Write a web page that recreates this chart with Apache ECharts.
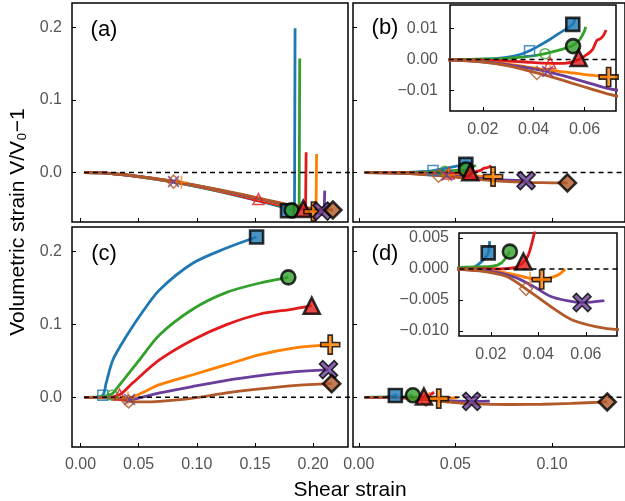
<!DOCTYPE html>
<html>
<head>
<meta charset="utf-8">
<script src="https://cdn.jsdelivr.net/npm/echarts@6.0.0/dist/echarts.min.js"></script>
<style>
html, body { margin: 0; padding: 0; background: #fff; }
#chart { width: 625px; height: 501px; }
</style>
</head>
<body>
<div id="chart"></div>
<script>
// 颜色: 蓝 绿 红 橙 紫 棕
const COLORS = ['#1f78b4', '#33a02c', '#e31a1c', '#ff7f00', '#6a3d9a', '#b15928'];

// ---- panel (a) ----
const aBlue   = [[0.003,0],[0.02,-0.0005],[0.04,-0.0036],[0.06,-0.0079],[0.08,-0.0131],[0.10,-0.0192],[0.12,-0.0262],[0.14,-0.0338],[0.16,-0.0418],[0.172,-0.0468],[0.18,-0.0505],[0.184,-0.0525],[0.1845,0.1985]];
const aGreen  = [[0.003,0],[0.02,-0.0005],[0.04,-0.0035],[0.06,-0.0078],[0.08,-0.0129],[0.10,-0.0189],[0.12,-0.0257],[0.14,-0.0331],[0.16,-0.0408],[0.175,-0.0468],[0.183,-0.0505],[0.188,-0.0525],[0.1885,0.157]];
const aRed    = [[0.003,0],[0.02,-0.0005],[0.04,-0.0034],[0.06,-0.0076],[0.08,-0.0126],[0.10,-0.0185],[0.12,-0.0255],[0.14,-0.0332],[0.153,-0.0385],[0.17,-0.0442],[0.185,-0.0487],[0.1935,-0.051],[0.194,0.028]];
const aOrange = [[0.003,0],[0.02,-0.0005],[0.04,-0.0034],[0.06,-0.0075],[0.08,-0.0124],[0.10,-0.0182],[0.12,-0.0247],[0.14,-0.0317],[0.16,-0.039],[0.18,-0.0463],[0.195,-0.0515],[0.2025,-0.0535],[0.203,0.0257]];
const aPurple = [[0.003,0],[0.02,-0.0005],[0.04,-0.0033],[0.06,-0.0074],[0.08,-0.0122],[0.10,-0.0179],[0.12,-0.0243],[0.14,-0.0312],[0.16,-0.0384],[0.18,-0.0456],[0.2,-0.0515],[0.2095,-0.0535],[0.21,-0.0248]];
const aBrown  = [[0.003,0],[0.02,-0.0005],[0.04,-0.0032],[0.06,-0.0072],[0.08,-0.0119],[0.10,-0.0175],[0.12,-0.0237],[0.14,-0.0304],[0.16,-0.0374],[0.18,-0.0443],[0.2,-0.0495],[0.217,-0.0515]];
const aHollow = [null, null, [0.153,-0.0365], [0.0868,-0.0132], [0.080,-0.0124], [0.080,-0.0124]];
const aEnd    = [[0.178,-0.0525],[0.1815,-0.052],[0.1915,-0.050],[0.2003,-0.0536],[0.2075,-0.053],[0.217,-0.0515]];

// ---- panel (b) ----
const bBlue   = [[0.003,0],[0.01,0],[0.02,0.0001],[0.025,0.0003],[0.03,0.0008],[0.035,0.0017],[0.0384,0.0028],[0.0425,0.0046],[0.0465,0.0065],[0.05,0.0084],[0.0554,0.0113],[0.0562,0.0132]];
const bGreen  = [[0.003,0],[0.02,0.0001],[0.03,0.0004],[0.038,0.001],[0.0445,0.0019],[0.05,0.003],[0.0554,0.0045],[0.0582,0.0065],[0.0598,0.0088],[0.0605,0.0105]];
const bRed    = [[0.003,0],[0.02,-0.0002],[0.035,-0.0007],[0.0465,-0.0012],[0.052,-0.0012],[0.056,-0.0006],[0.0595,0.0008],[0.063,0.003],[0.0649,0.0062],[0.0663,0.0067],[0.0675,0.0078],[0.0685,0.0095]];
const bOrange = [[0.003,0],[0.02,-0.0006],[0.03,-0.0015],[0.04,-0.0027],[0.0465,-0.0035],[0.0557,-0.0043],[0.0623,-0.005],[0.0695,-0.0056]];
const bPurple = [[0.003,0],[0.02,-0.0007],[0.03,-0.0017],[0.04,-0.003],[0.0455,-0.0039],[0.0557,-0.0061],[0.0625,-0.0077],[0.0695,-0.0093],[0.078,-0.0104],[0.0866,-0.011]];
const bBrown  = [[0.003,0],[0.02,-0.0008],[0.03,-0.002],[0.0413,-0.0043],[0.048,-0.0058],[0.0557,-0.0077],[0.0625,-0.0094],[0.0695,-0.0111],[0.08,-0.0128],[0.09,-0.0137],[0.1,-0.0141],[0.108,-0.0142]];
const bHollow = [[0.0384,0.0028],[0.0445,0.0019],[0.0465,-0.0011],[0.0465,-0.0034],[0.0455,-0.0038],[0.0413,-0.0043]];
const bEnd    = [[0.0554,0.0113],[0.0555,0.0043],[0.0577,0.0005],[0.0695,-0.0056],[0.0866,-0.011],[0.108,-0.0142]];

// ---- panel (c) ----
const cBlue   = [[0.003,0],[0.012,0],[0.0192,0.003],[0.0221,0.0197],[0.0279,0.0516],[0.0394,0.0836],[0.0537,0.118],[0.0681,0.1475],[0.0968,0.184],[0.1256,0.2046],[0.1514,0.2197]];
const cGreen  = [[0.003,0],[0.015,0.0005],[0.0273,0.005],[0.032,0.014],[0.0394,0.0288],[0.05,0.05],[0.0681,0.0859],[0.0968,0.1211],[0.1256,0.1438],[0.1543,0.1567],[0.1787,0.1644]];
const cRed    = [[0.003,0],[0.02,0],[0.0336,0.0037],[0.045,0.02],[0.0681,0.0516],[0.0968,0.079],[0.1256,0.0996],[0.1543,0.1142],[0.183,0.121],[0.1988,0.1256]];
const cOrange = [[0.003,0],[0.03,-0.0005],[0.0408,-0.001],[0.05,0.004],[0.068,0.0174],[0.0968,0.031],[0.1256,0.0448],[0.1543,0.0585],[0.183,0.0676],[0.2147,0.0722]];
const cPurple = [[0.003,0],[0.03,-0.001],[0.0422,-0.003],[0.05,-0.001],[0.068,0.006],[0.0968,0.015],[0.1256,0.0233],[0.1543,0.0297],[0.183,0.0348],[0.2132,0.038]];
const cBrown  = [[0.003,0],[0.03,-0.0015],[0.0414,-0.0055],[0.0537,-0.0063],[0.068,-0.0055],[0.0968,-0.001],[0.1256,0.006],[0.1543,0.0115],[0.183,0.016],[0.216,0.0188]];
const cHollow = [[0.0192,0.003],[0.0273,0.003],[0.0336,0.0037],[0.0408,-0.001],[0.0422,-0.003],[0.0414,-0.0055]];
const cEnd    = [[0.1514,0.2197],[0.1787,0.1644],[0.1988,0.1256],[0.2147,0.0722],[0.2132,0.038],[0.216,0.0188]];

// ---- panel (d) ----
const dBlue   = [[0.003,0],[0.01,0.0001],[0.013,0.0003],[0.0146,0.0007],[0.017,0.0015],[0.0189,0.0026],[0.0195,0.0045]];
const dGreen  = [[0.003,0],[0.009,0.0003],[0.02,0.0004],[0.0245,0.001],[0.028,0.0028]];
const dRed    = [[0.003,0],[0.02,0],[0.03,0.0002],[0.033,0.0008],[0.0355,0.002],[0.0375,0.0045],[0.039,0.007]];
const dOrange = [[0.003,0],[0.02,-0.0003],[0.03,-0.0009],[0.0365,-0.0015],[0.0414,-0.0017],[0.046,-0.0013],[0.049,-0.0008],[0.0513,0]];
const dPurple = [[0.003,0],[0.02,-0.0004],[0.03,-0.0013],[0.0379,-0.0028],[0.045,-0.0044],[0.052,-0.0051],[0.0584,-0.0054],[0.0678,-0.0051]];
const dBrown  = [[0.003,0],[0.015,-0.0003],[0.0266,-0.0012],[0.0348,-0.0032],[0.045,-0.006],[0.0548,-0.0083],[0.0689,-0.0096],[0.08,-0.0098],[0.095,-0.0094],[0.11,-0.0082],[0.1286,-0.0063]];
const dHollow = [null, null, null, [0.0365,-0.0015], null, [0.0348,-0.0032]];
const dEnd    = [[0.0189,0.0026],[0.028,0.0028],[0.0337,0.0012],[0.0414,-0.0017],[0.0584,-0.0054],[0.1286,-0.0063]];

// 刻度
const mainXTicksL = [0, 0.05, 0.10, 0.15, 0.20];
const mainXTicksR = [0, 0.05, 0.10];
const mainYTicks  = [0, 0.1, 0.2];
const insetXTicks = [0.02, 0.04, 0.06];
const insetBYTicks = [-0.01, 0, 0.01];
const insetDYTicks = [-0.010, -0.005, 0, 0.005];

const FONT = 'Liberation Sans, Arial, sans-serif';

// 十字 / 叉 形状
function crossPath(w, L, rot) {
  const pts = [[-w,-L],[w,-L],[w,-w],[L,-w],[L,w],[w,w],[w,L],[-w,L],[-w,w],[-L,w],[-L,-w],[-w,-w]];
  const c = Math.cos(rot), s = Math.sin(rot);
  return 'path://' + pts.map((p, i) => (i ? 'L' : 'M') + (p[0]*c - p[1]*s).toFixed(3) + ',' + (p[0]*s + p[1]*c).toFixed(3)).join('') + 'Z';
}
const plusThin  = crossPath(0.7, 6, 0);
const xThin     = crossPath(0.7, 6, Math.PI / 4);
const plusThick = crossPath(2, 9, 0);
const xThick    = crossPath(2, 9, Math.PI / 4);

const hollowSym  = ['rect', 'circle', 'triangle', plusThin, xThin, 'diamond'];
const hollowSize = [10, 10, 11, 13, 12, 13];
const endSym  = ['rect', 'circle', 'triangle', plusThick, xThick, 'diamond'];
const endSize = [13, 14, 16, 19, 18, 17];

const minus = v => String(v).replace('-', '\u2212');

function axis(gi, min, max, ticks, showLabel, dec, margin) {
  return {
    type: 'value', gridIndex: gi, min: min, max: max,
    axisLine: { show: false, onZero: false }, splitLine: { show: false },
    axisTick: { inside: true, length: 4, customValues: ticks, lineStyle: { color: '#000', width: 1 } },
    axisLabel: { show: showLabel, customValues: ticks, margin: margin, color: '#555', fontSize: 16, fontFamily: FONT,
      formatter: v => minus(v.toFixed(dec)) }
  };
}

let series = [];
function addPanel(gi, curves, hollow, ends, smooth) {
  curves.forEach((d, i) => {
    series.push({
      type: 'line', xAxisIndex: gi, yAxisIndex: gi, data: d, symbol: 'none', smooth: smooth,
      lineStyle: { color: COLORS[i], width: 2.8 }, z: 2, silent: true
    });
  });
  // 零线
  series.push({
    type: 'line', xAxisIndex: gi, yAxisIndex: gi, data: [[0.003, 0], [1, 0]], symbol: 'none',
    lineStyle: { color: '#000', width: 1.5, type: [5, 4] }, z: 3, silent: true
  });
  hollow.forEach((p, i) => {
    if (!p) return;
    const thin = i === 3 || i === 4;
    series.push({
      type: 'scatter', xAxisIndex: gi, yAxisIndex: gi, data: [p],
      symbol: hollowSym[i], symbolSize: hollowSize[i], z: 4, silent: true,
      itemStyle: thin ? { color: COLORS[i], borderWidth: 0 }
                      : { color: 'rgba(0,0,0,0)', borderColor: COLORS[i], borderWidth: 1.5 }
    });
  });
  ends.forEach((p, i) => {
    if (!p) return;
    const cross = i === 3 || i === 4;
    series.push({
      type: 'scatter', xAxisIndex: gi, yAxisIndex: gi, data: [p],
      symbol: endSym[i], symbolSize: endSize[i], z: 5, silent: true,
      itemStyle: { color: COLORS[i], borderColor: '#000', borderWidth: cross ? 1.6 : 2.6 }
    });
  });
}

addPanel(0, [aBlue, aGreen, aRed, aOrange, aPurple, aBrown], aHollow, aEnd, false);
addPanel(1, [bBlue, bGreen, bRed, bOrange, bPurple, bBrown], bHollow, bEnd, 0.3);
addPanel(2, [cBlue, cGreen, cRed, cOrange, cPurple, cBrown], cHollow, cEnd, 0.3);
addPanel(3, [dBlue, dGreen, dRed, dOrange, dPurple, dBrown], dHollow, dEnd, 0.3);
addPanel(4, [bBlue, bGreen, bRed, bOrange, bPurple, bBrown], bHollow, bEnd, 0.3);
addPanel(5, [dBlue, dGreen, dRed, dOrange, dPurple, dBrown], dHollow, dEnd, 0.3);

const gridStyle = { show: true, borderColor: '#000', borderWidth: 1.5, backgroundColor: '#fff' };

const option = {
  animation: false,
  backgroundColor: '#fff',
  grid: [
    Object.assign({ left: 72, top: 3, width: 276, height: 219 }, gridStyle),
    Object.assign({ left: 353, top: 3, width: 276, height: 219 }, gridStyle),
    Object.assign({ left: 72, top: 227, width: 276, height: 220 }, gridStyle),
    Object.assign({ left: 353, top: 227, width: 276, height: 220 }, gridStyle),
    Object.assign({ left: 450, top: 5, width: 166, height: 106 }, gridStyle),
    Object.assign({ left: 459, top: 233, width: 158, height: 103 }, gridStyle)
  ],
  xAxis: [
    axis(0, -0.0073, 0.230, mainXTicksL, false, 2, 10),
    axis(1, -0.003, 0.1378, mainXTicksR, false, 2, 10),
    axis(2, -0.0073, 0.230, mainXTicksL, true, 2, 10),
    axis(3, -0.003, 0.1378, mainXTicksR, true, 2, 10),
    axis(4, 0.0071, 0.0724, insetXTicks, true, 2, 11),
    axis(5, 0.0066, 0.0731, insetXTicks, true, 2, 11)
  ],
  yAxis: [
    axis(0, -0.068, 0.2334, mainYTicks, true, 1, 10),
    axis(1, -0.068, 0.2334, mainYTicks, false, 1, 10),
    axis(2, -0.068, 0.2334, mainYTicks, true, 1, 10),
    axis(3, -0.068, 0.2334, mainYTicks, false, 1, 10),
    axis(4, -0.0165, 0.0175, insetBYTicks, true, 2, 12),
    axis(5, -0.0108, 0.0058, insetDYTicks, true, 3, 10)
  ],
  graphic: [
    { type: 'text', x: 104, y: 30, style: { text: '(a)', font: '22px ' + FONT, fill: '#000', align: 'center', verticalAlign: 'middle' } },
    { type: 'text', x: 385, y: 28, style: { text: '(b)', font: '22px ' + FONT, fill: '#000', align: 'center', verticalAlign: 'middle' } },
    { type: 'text', x: 104, y: 254, style: { text: '(c)', font: '22px ' + FONT, fill: '#000', align: 'center', verticalAlign: 'middle' } },
    { type: 'text', x: 385, y: 254, style: { text: '(d)', font: '22px ' + FONT, fill: '#000', align: 'center', verticalAlign: 'middle' } },
    { type: 'text', x: 350, y: 490, style: { text: 'Shear strain', font: '21px ' + FONT, fill: '#000', align: 'center', verticalAlign: 'middle' } },
    { type: 'text', x: 18, y: 222, rotation: Math.PI / 2,
      style: { text: 'Volumetric strain V/V\u2080\u22121', font: '21px ' + FONT, fill: '#000', align: 'center', verticalAlign: 'middle' } }
  ],
  series: series
};

let chart = echarts.init(document.getElementById('chart'));
chart.setOption(option);
</script>
</body>
</html>
